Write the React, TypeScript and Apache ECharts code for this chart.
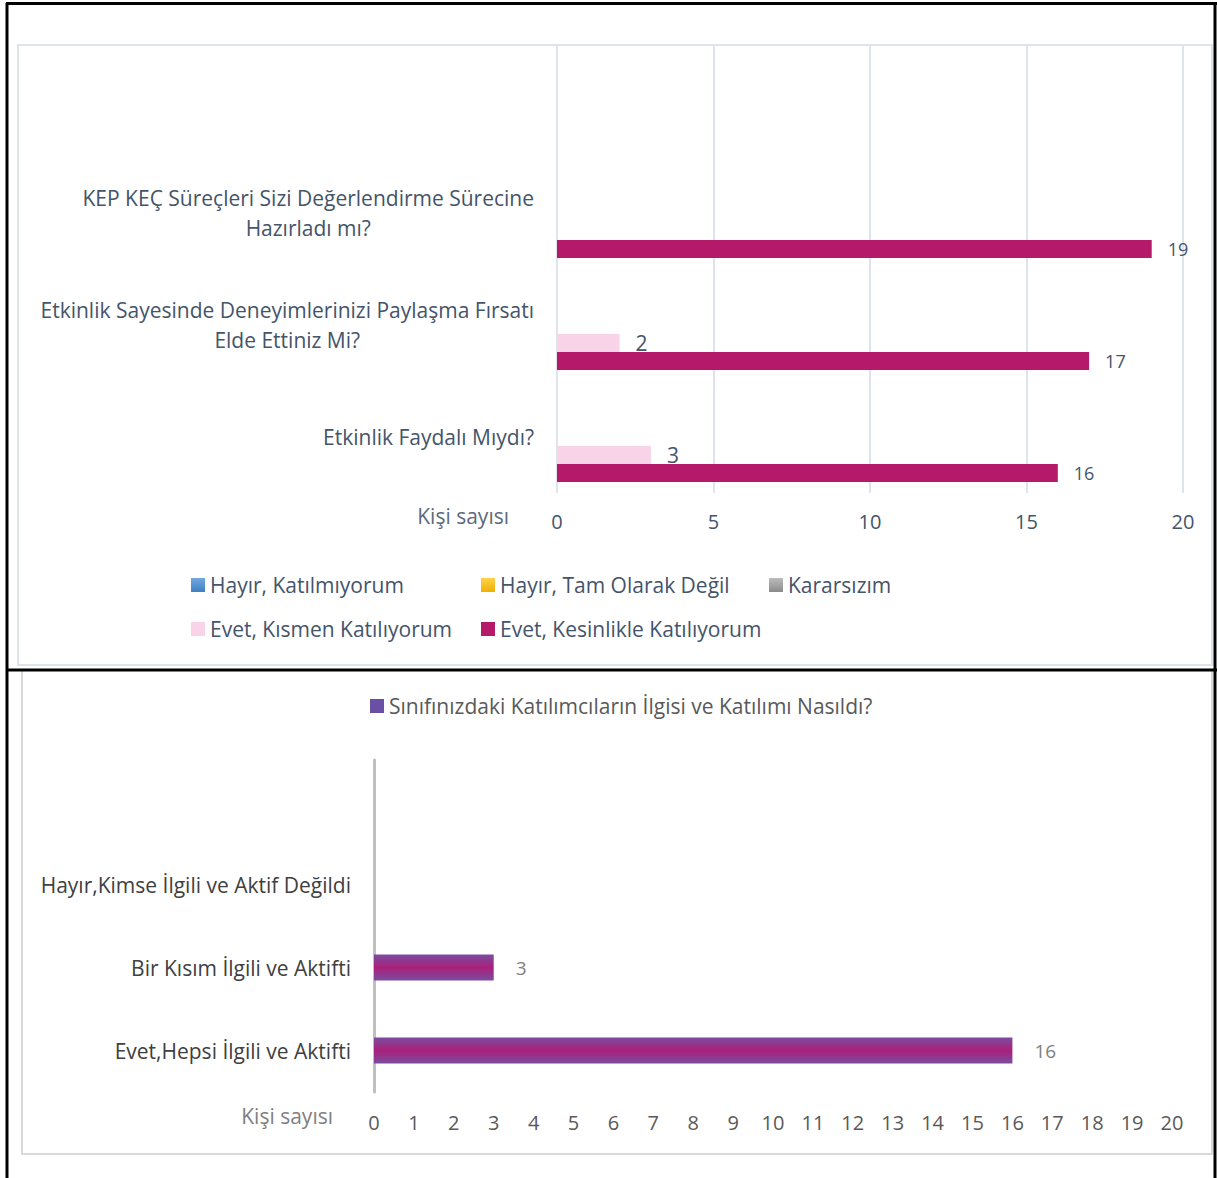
import React, { useEffect, useRef } from 'react';
import * as echarts from 'echarts';

// ---- Top chart data (categories listed bottom to top) ----
const topCategories = [
  'Etkinlik Faydalı Mıydı?',
  'Etkinlik Sayesinde Deneyimlerinizi Paylaşma Fırsatı\nElde Ettiniz Mi?',
  'KEP KEÇ Süreçleri Sizi Değerlendirme Sürecine\nHazırladı mı?',
  '',
];
const topSeriesNames = [
  'Hayır, Katılmıyorum',
  'Hayır, Tam Olarak Değil',
  'Kararsızım',
  'Evet, Kısmen Katılıyorum',
  'Evet, Kesinlikle Katılıyorum',
];
const hayirKatilmiyorum = [0, 0, 0, null];
const hayirTamDegil = [0, 0, 0, null];
const kararsizim = [0, 0, 0, null];
const evetKismen = [3, 2, 0, null];
const evetKesinlikle = [16, 17, 19, null];
const topMin = 0;
const topMax = 20;
const topInterval = 5;

// ---- Bottom chart data ----
const bottomCategories = [
  'Evet,Hepsi İlgili ve Aktifti',
  'Bir Kısım İlgili ve Aktifti',
  'Hayır,Kimse İlgili ve Aktif Değildi',
  '',
];
const bottomSeriesName = 'Sınıfınızdaki Katılımcıların İlgisi ve Katılımı Nasıldı?';
const bottomValues = [16, 3, 0, null];
const bottomMin = 0;
const bottomMax = 20;
const bottomInterval = 1;

const axisTitle = 'Kişi sayısı';

const FONT = '"Open Sans", "Noto Sans", sans-serif';
const SLATE = '#44546a';
const FS = 21;

const vGrad = (a: string, b: string) =>
  new echarts.graphic.LinearGradient(0, 0, 0, 1, [
    { offset: 0, color: a },
    { offset: 1, color: b },
  ]);

const hideZero = (p: any) => (p.value === 0 || p.value == null ? '' : String(p.value));

export default function App() {
  const ref = useRef<HTMLDivElement>(null);

  useEffect(() => {
    if (!ref.current) return;
    const chart = echarts.init(ref.current, undefined, { renderer: 'svg' });

    const topColors = [
      vGrad('#72a9de', '#3f7fc2'),
      vGrad('#ffd24d', '#efb000'),
      vGrad('#bdbdbd', '#8a8a8a'),
      '#f9d4e9',
      '#b4196a',
    ];
    const topData = [hayirKatilmiyorum, hayirTamDegil, kararsizim, evetKismen, evetKesinlikle];

    const topSeries = topSeriesNames.map((name, i) => ({
      type: 'bar',
      name,
      xAxisIndex: 0,
      yAxisIndex: 0,
      data: topData[i],
      barWidth: 18,
      barGap: '0%',
      itemStyle: { color: topColors[i] },
      label: {
        show: true,
        position: 'right',
        distance: 16,
        formatter: hideZero,
        fontFamily: FONT,
        fontSize: i === 3 ? 21 : 18,
        color: SLATE,
      },
    }));

    const bottomBarColor = new echarts.graphic.LinearGradient(0, 0, 0, 1, [
      { offset: 0, color: '#7a4c9f' },
      { offset: 0.5, color: '#a9207a' },
      { offset: 1, color: '#7a4c9f' },
    ]);

    const legendText = { fontFamily: FONT, fontSize: FS, color: SLATE, lineHeight: 22 };

    const option: any = {
      animation: false,
      backgroundColor: '#ffffff',
      graphic: [
        {
          type: 'rect',
          shape: { x: 18, y: 45, width: 1194, height: 620 },
          style: { fill: 'none', stroke: '#dfe4ec', lineWidth: 2 },
          silent: true,
        },
        {
          type: 'rect',
          shape: { x: 22, y: 670, width: 1190, height: 484 },
          style: { fill: 'none', stroke: '#d9d9d9', lineWidth: 2 },
          silent: true,
        },
        { type: 'line', shape: { x1: 7, y1: 3, x2: 7, y2: 1178 }, style: { stroke: '#000', lineWidth: 3 }, silent: true },
        { type: 'line', shape: { x1: 6, y1: 3.5, x2: 1217, y2: 3.5 }, style: { stroke: '#000', lineWidth: 3 }, silent: true },
        { type: 'line', shape: { x1: 1215, y1: 2, x2: 1215, y2: 1178 }, style: { stroke: '#000', lineWidth: 3 }, silent: true },
        { type: 'line', shape: { x1: 6, y1: 670, x2: 1217, y2: 670 }, style: { stroke: '#000', lineWidth: 3 }, silent: true },
      ],
      legend: [
        {
          data: [topSeriesNames[0], topSeriesNames[3]],
          left: 186,
          top: 569,
          orient: 'vertical',
          itemWidth: 14,
          itemHeight: 14,
          itemGap: 22,
          icon: 'rect',
          selectedMode: false,
          textStyle: legendText,
        },
        {
          data: [topSeriesNames[1], topSeriesNames[4]],
          left: 476,
          top: 569,
          orient: 'vertical',
          itemWidth: 14,
          itemHeight: 14,
          itemGap: 22,
          icon: 'rect',
          selectedMode: false,
          textStyle: legendText,
        },
        {
          data: [topSeriesNames[2]],
          left: 764,
          top: 569,
          orient: 'vertical',
          itemWidth: 14,
          itemHeight: 14,
          icon: 'rect',
          selectedMode: false,
          textStyle: legendText,
        },
        {
          data: [{ name: bottomSeriesName, itemStyle: { color: '#6b4fa5' } }],
          left: 365,
          top: 690,
          itemWidth: 14,
          itemHeight: 14,
          icon: 'rect',
          selectedMode: false,
          textStyle: { ...legendText, color: '#595959' },
        },
      ],
      grid: [
        { left: 557, right: 34, top: 45, height: 448 },
        { left: 374, right: 45, top: 760, height: 332 },
      ],
      xAxis: [
        {
          type: 'value',
          gridIndex: 0,
          min: topMin,
          max: topMax,
          interval: topInterval,
          axisLine: { show: false },
          axisTick: { show: false },
          splitLine: { show: true, lineStyle: { color: '#dfe4ec', width: 2 } },
          axisLabel: { fontFamily: FONT, fontSize: 20, color: SLATE, margin: 18 },
          name: axisTitle,
          nameLocation: 'start',
          nameGap: 48,
          nameTextStyle: {
            fontFamily: FONT,
            fontSize: FS,
            color: '#5d6a7c',
            verticalAlign: 'top',
            padding: [12, 0, 0, 0],
          },
        },
        {
          type: 'value',
          gridIndex: 1,
          min: bottomMin,
          max: bottomMax,
          interval: bottomInterval,
          axisLine: { show: false },
          axisTick: { show: false },
          splitLine: { show: false },
          axisLabel: { fontFamily: FONT, fontSize: 20, color: '#595959', margin: 20 },
          name: axisTitle,
          nameLocation: 'start',
          nameGap: 41,
          nameTextStyle: {
            fontFamily: FONT,
            fontSize: FS,
            color: '#7f7f7f',
            verticalAlign: 'top',
            padding: [13, 0, 0, 0],
          },
        },
      ],
      yAxis: [
        {
          type: 'category',
          gridIndex: 0,
          data: topCategories,
          axisLine: { show: false },
          axisTick: { show: false },
          splitLine: { show: false },
          axisLabel: {
            margin: 23,
            formatter: (v: string) =>
              v ? v.split('\n').map((l) => `{c|${l}}`).join('\n') : '',
            rich: {
              c: { align: 'center', fontFamily: FONT, fontSize: FS, color: SLATE, lineHeight: 30 },
            },
          },
        },
        {
          type: 'category',
          gridIndex: 1,
          data: bottomCategories,
          axisLine: { show: true, lineStyle: { color: '#bfbfbf', width: 3 } },
          axisTick: { show: false },
          splitLine: { show: false },
          axisLabel: { margin: 23, fontFamily: FONT, fontSize: FS, color: '#404040' },
        },
      ],
      series: [
        ...topSeries,
        {
          type: 'bar',
          name: bottomSeriesName,
          xAxisIndex: 1,
          yAxisIndex: 1,
          data: bottomValues,
          barWidth: 26,
          itemStyle: { color: bottomBarColor },
          label: {
            show: true,
            position: 'right',
            distance: 22,
            formatter: hideZero,
            fontFamily: FONT,
            fontSize: 19,
            color: '#808080',
          },
        },
      ],
    };

    chart.setOption(option);
    return () => chart.dispose();
  }, []);

  return (
    <div
      style={{ position: 'absolute', left: 0, top: 0, width: 1217, height: 1178, background: '#fff' }}
    >
      <div ref={ref} style={{ width: 1217, height: 1178 }} />
    </div>
  );
}
